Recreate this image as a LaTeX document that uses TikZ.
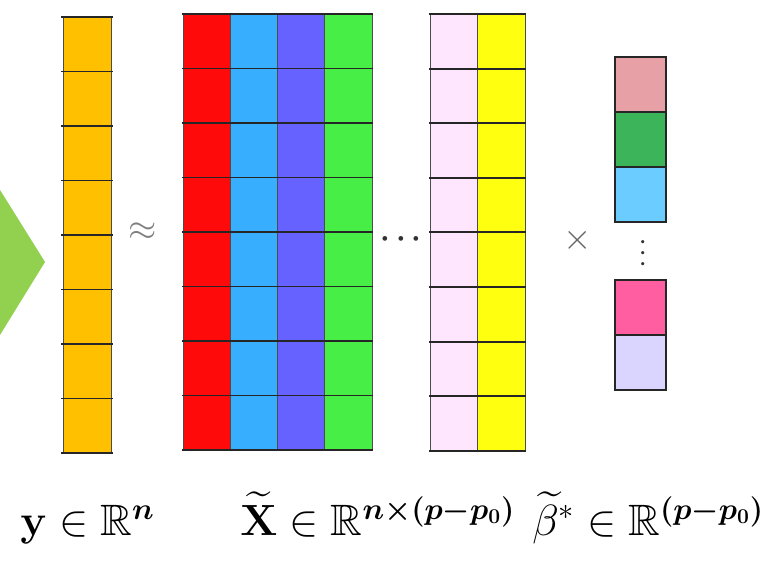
\documentclass[tikz,border=0pt]{standalone}
\usepackage{amsmath,amssymb}
\usepackage{tikz}
\usetikzlibrary{positioning}

\definecolor{arrowgreen}{HTML}{92D050}
\definecolor{ygold}{HTML}{FFC000}
\definecolor{xred}{HTML}{FF0A0A}
\definecolor{xsky}{HTML}{38AEFF}
\definecolor{xviolet}{HTML}{6662FF}
\definecolor{xgreen}{HTML}{46EE46}
\definecolor{xpink}{HTML}{FFE6FF}
\definecolor{xyellow}{HTML}{FFFF10}
\definecolor{brose}{HTML}{E6A0A6}
\definecolor{bgreen}{HTML}{3CB45A}
\definecolor{bsky}{HTML}{6ACCFF}
\definecolor{bpink}{HTML}{FF5FA0}
\definecolor{blav}{HTML}{D9D5FF}

\begin{document}
\begin{tikzpicture}[x=0.02cm, y=-0.02cm,
  every node/.style={font=\fontsize{22}{26}\selectfont, inner sep=0pt},
  hline/.style={black!85, line width=1.1pt},
  vline/.style={gray!60!black, line width=0.4pt},
  cellbox/.style={draw=black!85, line width=0.8pt},
  sym/.style={text=gray!40!black},
  dotsym/.style={sym, font=\fontsize{18}{20}\selectfont},
  lbl/.style={anchor=base west, font=\fontsize{25}{30}\selectfont}
]
\useasboundingbox (0,0) rectangle (780,567);
% Arrow tip from the left
\fill[arrowgreen] (0,190) -- (45,262) -- (0,335) -- cycle;
% Response vector y
\fill[ygold] (63,17) rectangle (111,453);
\draw[vline] (63,17) -- (63,453) (111,17) -- (111,453);
\foreach \i in {0,...,8}
  \draw[hline] (61,{17+54.5*\i}) -- (113,{17+54.5*\i});
\node[sym, text=gray] (approx) at (143,232) {$\approx$};
% Design matrix X, first columns
\foreach \c [count=\k from 0] in {xred,xsky,xviolet,xgreen}
  \fill[\c] ({183+47.25*\k},14) rectangle ({230.25+47.25*\k},450);
\foreach \k in {0,...,4}
  \draw[vline] ({183+47.25*\k},14) -- ({183+47.25*\k},450);
\foreach \i in {0,...,8}
  \draw[hline] (182,{14+54.5*\i}) -- (373,{14+54.5*\i});
\node[dotsym] (hdots) at (404,239) {$\boldsymbol{\cdots}$};
% Design matrix X, last columns
\fill[xpink] (430,14) rectangle (477,451);
\fill[xyellow] (477,14) rectangle (525,451);
\draw[vline] (430,14) -- (430,451) (477,14) -- (477,451) (525,14) -- (525,451);
\foreach \i in {0,...,8}
  \draw[hline] (429,{14+54.6*\i}) -- (526,{14+54.6*\i});
\node[sym, text=gray!80!black] (times) at (578,240) {$\times$};
% Coefficient vector beta
\foreach \c [count=\k from 0] in {brose,bgreen,bsky}
  \filldraw[cellbox, fill=\c] (615,{57+55*\k}) rectangle (666,{112+55*\k});
\node[dotsym, font=\fontsize{13}{15}\selectfont, rotate=90] (vdots) at (643,251) {$\boldsymbol{\cdots}$};
\foreach \c [count=\k from 0] in {bpink,blav}
  \filldraw[cellbox, fill=\c] (615,{280+55*\k}) rectangle (666,{335+55*\k});
% Labels
\node[lbl] (ylab) at (20,535) {$\mathbf{y}\in\mathbb{R}^{\boldsymbol{n}}$};
\node[lbl] (xlab) at (240,535) {$\widetilde{\mathbf{X}}\in\mathbb{R}^{\boldsymbol{n\times(p-p_0)}}$};
\node[lbl] (blab) at (532,535) {$\widetilde{\beta}^{*}\in\mathbb{R}^{\boldsymbol{(p-p_0)}}$};
\end{tikzpicture}
\end{document}
